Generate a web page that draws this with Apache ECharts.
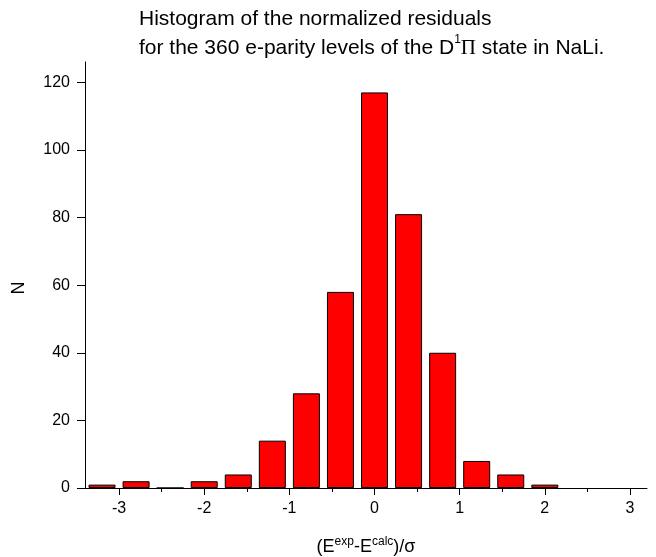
<!DOCTYPE html>
<html>
<head>
<meta charset="utf-8">
<script src="https://cdn.jsdelivr.net/npm/echarts@6/dist/echarts.min.js"></script>
<style>
  html, body { margin: 0; padding: 0; background: #fff; }
  #chart { width: 656px; height: 557px; }
</style>
</head>
<body>
<div id="chart"></div>
<script>
// histogram bins (centre of each 0.4 wide bin) and counts
const binCenters = [-3.2, -2.8, -2.4, -2.0, -1.6, -1.2, -0.8, -0.4, 0, 0.4, 0.8, 1.2, 1.6, 2.0]
const counts = [1, 2, 0, 2, 4, 14, 28, 58, 117, 81, 40, 8, 4, 1]
const xMajor = [-3, -2, -1, 0, 1, 2, 3]
const xMinor = [-2.5, -1.5, -0.5, 0.5, 1.5, 2.5]
const yMajor = [0, 20, 40, 60, 80, 100, 120]
const yMinor = [10, 30, 50, 70, 90, 110]

const font = 'Liberation Sans, Arial, sans-serif'
const black = '#000'

const chart = echarts.init(document.getElementById('chart'))

const axisBase = {
  type: 'value',
  splitLine: { show: false },
  axisLine: { show: true, onZero: false, lineStyle: { color: black, width: 1 } }
}

const option = {
  animation: false,
  backgroundColor: '#fff',
  title: {
    left: 139,
    top: 5,
    padding: 0,
    text: '{t|Histogram of the normalized residuals}\n{t|for the 360 e-parity levels of the D}{s|1}{p|Π}{t| state in NaLi.}',
    textStyle: {
      fontWeight: 'normal',
      rich: {
        t: { fontSize: 21, lineHeight: 29, fontWeight: 'normal', fontFamily: font, color: black },
        s: { fontSize: 12, lineHeight: 16, verticalAlign: 'top', fontWeight: 'normal', fontFamily: font, color: black },
        p: { fontSize: 21, lineHeight: 29, fontWeight: 'normal', fontFamily: 'Liberation Serif, serif', color: black }
      }
    }
  },
  grid: { left: 85, right: 9, top: 62, bottom: 69, outerBoundsMode: 'none' },
  xAxis: [
    Object.assign({}, axisBase, {
      min: -3.4,
      max: 3.2,
      position: 'bottom',
      name: '{t|(E}{s|exp}{t|-E}{s|calc}{t|)/σ}',
      nameLocation: 'middle',
      nameGap: 48,
      nameTextStyle: {
        rich: {
          t: { fontSize: 18, lineHeight: 22, fontFamily: font, color: black },
          s: { fontSize: 12, lineHeight: 14, verticalAlign: 'top', fontFamily: font, color: black }
        }
      },
      axisTick: { show: true, length: 7, customValues: xMajor, lineStyle: { color: black } },
      axisLabel: { customValues: xMajor, margin: 13, fontSize: 16, fontFamily: font, color: black, formatter: v => String(v) }
    }),
    Object.assign({}, axisBase, {
      min: -3.4,
      max: 3.2,
      position: 'bottom',
      axisLine: { show: false },
      axisTick: { show: true, length: 4, customValues: xMinor, lineStyle: { color: black } },
      axisLabel: { show: false }
    })
  ],
  yAxis: [
    Object.assign({}, axisBase, {
      min: 0,
      max: 126,
      position: 'left',
      name: 'N',
      nameLocation: 'middle',
      nameGap: 57,
      nameTextStyle: { fontSize: 18, fontFamily: font, color: black, padding: [0, 26, 0, 0] },
      axisTick: { show: true, length: 8, customValues: yMajor, lineStyle: { color: black } },
      axisLabel: { customValues: yMajor, margin: 15, fontSize: 16, fontFamily: font, color: black }
    }),
    Object.assign({}, axisBase, {
      min: 0,
      max: 126,
      position: 'left',
      axisLine: { show: false },
      axisTick: { show: true, length: 4, customValues: yMinor, lineStyle: { color: black } },
      axisLabel: { show: false }
    })
  ],
  series: [
    {
      type: 'bar',
      xAxisIndex: 0,
      yAxisIndex: 0,
      barWidth: 27,
      itemStyle: { color: '#ff0000', borderColor: black, borderWidth: 1 },
      data: binCenters.map((x, i) => [x, counts[i]])
    }
  ]
}

chart.setOption(option)
</script>
</body>
</html>
